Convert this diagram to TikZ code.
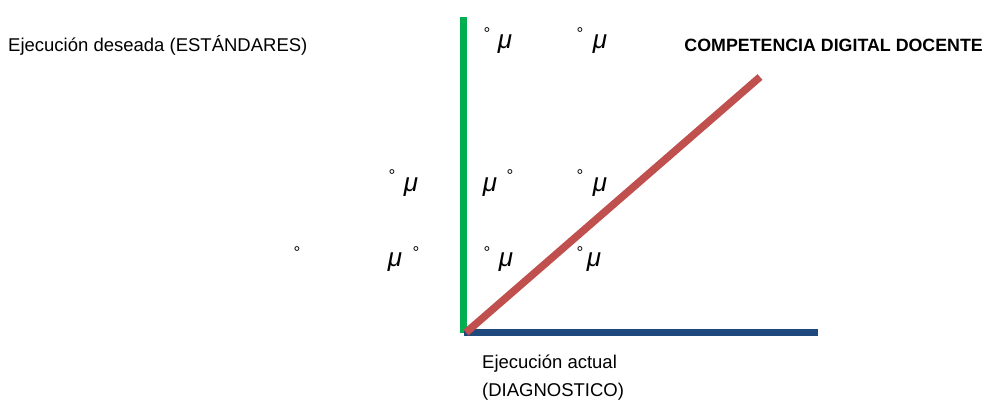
\documentclass[tikz,border=0pt]{standalone}
\usepackage{fontspec}
\setmainfont{Liberation Sans}
\definecolor{ejeverde}{HTML}{00B050}
\definecolor{ejeazul}{HTML}{1F497D}
\definecolor{ejerojo}{HTML}{C0504D}
\begin{document}
\begin{tikzpicture}[x=1pt,y=-1pt,
  txt/.style={inner sep=0pt,font=\fontsize{18.5}{21}\selectfont},
  mu/.style={inner sep=0pt,font=\fontsize{26}{28}\selectfont\itshape},
  grado/.style={inner sep=0pt,anchor=north,font=\fontsize{17}{19}\selectfont}]
\useasboundingbox (0,0) rectangle (985,403);

\coordinate (top) at (463.5,17);
\coordinate (o) at (463.5,332.5);
\coordinate (der) at (818,332.5);
\coordinate (punta) at (760,77);

\draw[ejeverde,line width=7pt] (top)--(o);
\draw[ejeazul,line width=7pt] (o)--(der);
\draw[ejerojo,line width=7.5pt] ([xshift=2.5pt]o)--(punta);

\node[txt,anchor=west] (deseada) at (8,45) {Ejecución deseada (ESTÁNDARES)};
\node[txt,anchor=east,font=\fontsize{17.8}{20}\selectfont\bfseries] (titulo) at (983,45) {COMPETENCIA DIGITAL DOCENTE};
\node[txt,anchor=west] (actual) at (482,364) {Ejecución actual};
\node[txt,anchor=west] (diag) at (482,392) {(DIAGNOSTICO)};

% fila de arriba
\node[grado] (g1) at (487,27.4) {°};
\node[mu] (m1) at (505,44) {μ};
\node[grado] (g2) at (580,27.4) {°};
\node[mu] (m2) at (600,44) {μ};

% fila del medio
\node[grado] (g3) at (392,169.4) {°};
\node[mu] (m3) at (411,187) {μ};
\node[mu] (m4) at (490,187) {μ};
\node[grado] (g4) at (510,169.4) {°};
\node[grado] (g5) at (580,169.4) {°};
\node[mu] (m5) at (600,187) {μ};

% fila de abajo
\node[grado] (g6) at (297,246.4) {°};
\node[mu] (m6) at (395,262) {μ};
\node[grado] (g7) at (416,246.4) {°};
\node[grado] (g8) at (487,246.4) {°};
\node[mu] (m7) at (506,262) {μ};
\node[grado] (g9) at (580,246.4) {°};
\node[mu] (m8) at (594,262) {μ};
\end{tikzpicture}
\end{document}
